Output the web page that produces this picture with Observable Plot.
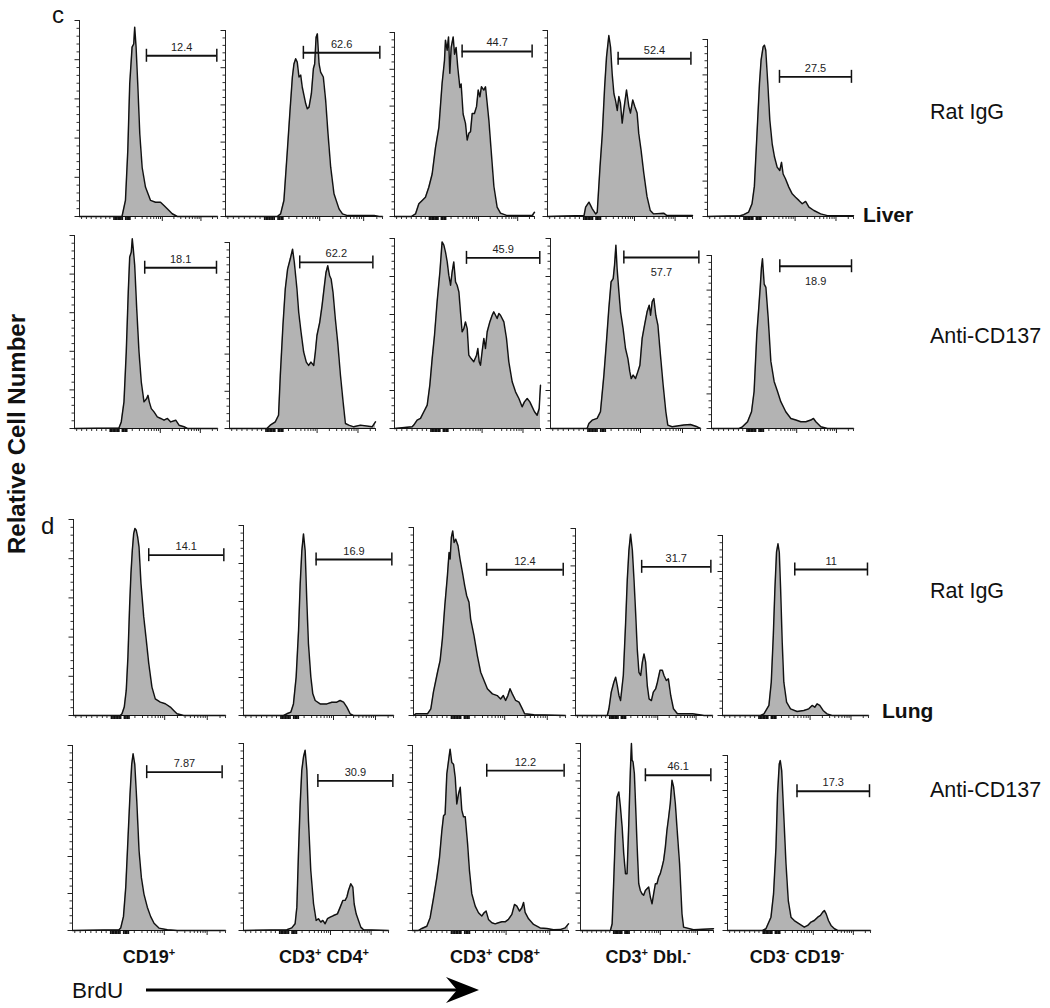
<!DOCTYPE html>
<html><head><meta charset="utf-8">
<script src="https://cdn.jsdelivr.net/npm/d3@7"></script>
<script src="https://cdn.jsdelivr.net/npm/@observablehq/plot@0.6"></script>
<style>
html,body{margin:0;padding:0;background:#fff;}
#fig{position:relative;width:1050px;height:1008px;overflow:hidden;background:#fff;font-family:"Liberation Sans",Arial,sans-serif;}
#fig svg{position:absolute;}
</style></head><body><div id="fig"></div>
<script>
// ---------- categories / labels ----------
const columns = [[["CD19","+"]],[["CD3","+"],[" CD4","+"]],[["CD3","+"],[" CD8","+"]],[["CD3","+"],[" Dbl.","-"]],[["CD3","-"],[" CD19","-"]]];
const conditions = ["Rat IgG","Anti-CD137","Rat IgG","Anti-CD137"];
const tissues = ["Liver","Lung"];
const panelLetters = ["c","d"];
const yTitle = "Relative Cell Number";
const xTitle = "BrdU";

// ---------- histogram series: [BrdU channel (0-100), relative cell number (% of max)] ----------
const liverIgG_CD19 = [[0,0],[30.8,0],[33.3,8.2],[35,33.7],[36.4,67.7],[38.1,86.4],[39.3,88],[40,96.6],[41,86.4],[42.2,67.7],[43.7,42],[45.4,25],[47.8,15],[51.5,8.2],[55.1,7.3],[58.7,7.3],[61.2,5.6],[63.6,3.9],[67.2,1.4],[70.9,0],[100,0]];
const liverIgG_CD4 = [[0,0],[33,0],[35.1,1.4],[37.2,8.6],[39.4,35.5],[41.1,57],[42.6,75],[43.6,82],[44.7,84.8],[45.7,83],[46.8,75],[47.9,76],[48.9,69.5],[51.1,60.6],[52.1,57.9],[53.2,58.8],[54.7,66],[56,79.6],[56.8,82],[57.7,96.4],[58.5,98.2],[59.6,82],[60.6,77.6],[62.3,75],[63.8,62.4],[65.3,44.4],[67,26.5],[69.1,12.2],[72.3,4.1],[74.5,1.4],[77.7,0.5],[94.7,0.5],[97.9,0],[100,0]];
const liverIgG_CD8 = [[0,0],[12,0],[15,1.4],[17.4,6.9],[19.8,8.7],[22.1,10.5],[24.5,15.9],[26.9,23.1],[29.3,37.6],[31.7,48.5],[34,72.3],[35.7,84.8],[36.4,95.8],[37.6,90.4],[38.6,97.6],[39.5,77.8],[40.5,91.9],[41.9,97.6],[42.9,88.2],[44,91.9],[45.2,81],[46.7,70.1],[47.6,72],[49,55.7],[50.7,50.6],[51.9,41.6],[53.1,45.2],[54.3,46.1],[55.5,56],[57.1,56],[58.6,59.7],[59.8,68.7],[61,65.1],[62.1,70.5],[63.8,68.7],[65,70.5],[66.2,61.5],[67.4,52.4],[69,36.2],[71,16.3],[73.3,5.1],[75.7,1.8],[80.5,0.5],[98.3,0.5],[100,2.3]];
const liverIgG_DN = [[0,0],[25.2,0.5],[26.3,5],[28.6,7.7],[30.9,4.1],[33.2,1.4],[34.3,2.3],[36.2,26.5],[37.8,44.4],[39.4,69.5],[40.7,85.7],[42.3,97.3],[43.5,91],[44.6,76.7],[45.8,66],[46.9,62.4],[48.1,57],[49.2,64.5],[50.3,60.9],[51.5,50.2],[52.6,57.3],[54.5,68],[56.1,59.1],[57.2,55.6],[58.8,62.7],[60.2,59.1],[61.8,55.6],[62.9,44.8],[64.5,35.8],[66.4,23.3],[68.6,10.8],[70.9,3.2],[73.2,1.4],[80.1,1.8],[82.4,0.5],[100,0.5]];
const liverIgG_NonTB = [[0,0],[22.5,0.5],[24.8,1],[28.2,2.5],[30.5,7.2],[32.1,17],[33.9,46.8],[35.6,75.1],[36.7,88.3],[38.1,95.8],[39,96.8],[39.9,93.9],[41.3,75.1],[42.7,54.3],[44.3,41.1],[45.9,33.6],[47.7,27.9],[49.5,26],[50.7,30.6],[51.8,24],[53.4,21.3],[55.7,16.6],[58,12.8],[60.3,10.9],[62.6,9.1],[64.9,7.2],[67.2,8.5],[69.5,5.3],[72.9,3.4],[77.5,1.5],[82.1,0.5],[100,0.5]];

const liverAnti_CD19 = [[0,0],[31.1,0.3],[32.7,3.4],[34.6,13.8],[36.2,39.7],[37.6,70.7],[38.6,88.8],[39.7,91.4],[40.4,98.3],[41.1,93.1],[42.1,84.5],[43.5,62.1],[45.1,39.7],[46.7,24.1],[48.6,13.8],[50.5,15.5],[51.4,17.2],[52.3,13.8],[53.7,10.3],[55.6,8.6],[57.9,6],[60.3,5.2],[62.6,4.3],[65,5.2],[67.3,3.4],[70.8,4.3],[73.1,1.7],[76.6,0.9],[79,0],[100,0]];
const liverAnti_CD4 = [[0,0],[25.6,0],[27.9,1.8],[31.4,3.6],[33.6,7.1],[34.8,28.6],[36.6,55.4],[38.2,75],[39.8,85.7],[41.6,91.1],[43.2,96.4],[44.4,89.3],[45.3,82.1],[46.2,75],[47.4,62.5],[49,51.8],[50.8,41.1],[52.6,35.7],[54.2,33.9],[55.8,35.7],[57.7,33.9],[58.8,41.1],[59.9,50],[61.8,57.1],[63.4,66.1],[65,76.8],[66.1,83.9],[67.3,87.5],[68.6,82.1],[69.6,80.4],[70.9,73.2],[72.5,58.9],[74.1,46.4],[76,28.6],[77.8,14.3],[79.4,2.7],[81.7,1.8],[85.1,0.9],[89.7,1.8],[97.7,0.9],[100,3.6]];
const liverAnti_CD8 = [[0,0],[12.1,0.9],[13.2,1.8],[15.5,4.4],[17.8,5.3],[20.1,8.8],[22.4,12.3],[24.2,22.8],[25.8,36.8],[27.4,49.1],[29.2,66.7],[31.1,82.5],[32.6,98.2],[33.8,96.5],[34.9,93],[36.1,87.7],[37.2,80.7],[38.4,75.4],[39.5,82.5],[40.6,87.7],[41.8,77.2],[42.9,75.4],[44.1,71.9],[45.2,61.4],[46.3,50.9],[47.5,52.6],[48.6,56.1],[49.8,52.6],[50.9,38.6],[52.5,36.8],[54.3,35.1],[56.2,38.6],[57.1,42.1],[58,35.1],[58.9,33.3],[60,40.4],[61.2,47.4],[62.3,42.1],[63.5,50.9],[65.3,56.1],[66.9,59.6],[68,61.4],[69.2,59.6],[70.3,57.9],[71.5,60.5],[72.6,59.6],[74.9,56.1],[76.7,47.4],[78.3,35.1],[80.6,24.6],[82.9,19.3],[85.2,15.8],[87.4,11.4],[89,14],[90.9,15.8],[92.7,14],[94.3,11.4],[95.9,8.8],[97.7,7],[99.1,10.5],[100,22.8]];
const liverAnti_DN = [[0,0],[24.4,0],[25.6,2.6],[27.8,4.4],[31.1,5.3],[33.3,8.8],[35.6,28.1],[37.3,45.6],[38.9,63.2],[40.4,77.2],[41.8,78.9],[42.7,86],[43.6,96.5],[44.4,84.2],[45.6,71.9],[46.7,61.4],[48.4,52.6],[50,42.1],[51.6,36.8],[52.9,29.8],[53.8,26.3],[55.1,28.1],[56.7,26.3],[58.2,29.8],[59.6,33.3],[61.1,47.4],[62.7,54.4],[64.4,61.4],[65.8,64.9],[66.7,59.6],[67.8,66.7],[68.9,68.4],[70.2,59.6],[71.6,54.4],[73.3,38.6],[75.1,22.8],[76.9,8.8],[78.2,1.8],[81.1,0.9],[88.9,1.8],[93.3,2.1],[97.8,0.9],[100,0]];
const liverAnti_NonTB = [[0,0],[19.5,0],[21.8,1],[25.4,3.9],[28.2,9.7],[30,21.4],[31.9,54.4],[33.3,69.9],[34.3,81.6],[35.2,93.2],[35.9,98.1],[37.1,83.5],[38.3,81.6],[39.9,64.1],[41.8,38.8],[44.1,27.2],[46.5,21.4],[48.8,15.5],[52.3,9.7],[55.9,5.8],[59.4,4.9],[62.9,3.9],[66.4,3.9],[70,4.9],[71.8,5.8],[73.5,3.9],[77,1],[81.7,0],[100,0]];

const lungIgG_CD19 = [[0,0],[30.8,0],[31.9,0.9],[33.4,4.3],[34.7,12.8],[35.8,29.8],[36.9,55.4],[37.8,72.4],[38.7,84.3],[39.6,92.8],[40.4,95.4],[41.3,94.5],[42.2,91.1],[43.1,86],[44.4,67.3],[46.2,50.3],[47.9,38.3],[49.5,26.6],[51.6,14.5],[53.8,8.5],[57.1,6.8],[60.4,6],[63.7,4.3],[65.9,2.6],[68.1,0.9],[72.5,0],[100,0]];
const lungIgG_CD4 = [[0,0],[26.7,0],[28.9,0.9],[31.6,1.8],[33.3,6.1],[35.1,20.2],[36.7,44.7],[37.8,69.3],[38.9,86.8],[40,95.6],[41.1,86.8],[42.2,60.5],[43.3,37.7],[44.9,20.2],[46.2,11.4],[47.8,7.9],[51.1,6.1],[55.6,6.1],[58.9,7],[62.2,7],[64.4,7.9],[66.7,7],[68.9,4.4],[71.1,0.9],[73.3,0],[100,0]];
const lungIgG_CD8 = [[0,0],[1.5,0.9],[9.2,0.9],[11.4,3.5],[13.1,12.4],[15.8,23],[17.5,29.2],[19,40.7],[20.6,58.4],[22.3,74.3],[23.4,86.7],[24.1,83.2],[24.9,94.7],[25.8,98.2],[26.7,92],[27.8,93.8],[29.3,90.3],[30.6,83.2],[32.2,76.1],[33.7,69],[35,63.7],[36.5,60.2],[37.6,51.3],[39.8,42.5],[42,31.9],[44.2,23],[46.4,18.6],[48.6,14.2],[51.9,11.5],[55.1,10.6],[57.3,8.8],[59.1,10.6],[60.6,8],[62.1,10.6],[63.5,14.2],[65,11.5],[67.2,8],[69.4,7.1],[71.6,3.5],[73.1,0.9],[79.2,0.4],[100,0]];
const lungIgG_DN = [[0,0],[23.2,0],[24.4,3.6],[26.1,12.5],[28,17.8],[29.3,20.5],[30.5,16],[31.7,10.7],[32.9,8],[34.9,21.4],[36.6,49.8],[37.8,72.6],[39,88.3],[40.2,97],[41.5,88.3],[42.7,72.6],[43.9,54.8],[45.1,35.2],[46.3,23.1],[47.6,21.4],[48.8,28.5],[50,32.9],[51.2,28.5],[52.4,16],[53.7,8.9],[55.4,8],[56.8,12.5],[58.5,14.2],[59.8,17.8],[61.7,24.2],[63.4,24.2],[64.6,21.4],[66.3,18.7],[67.8,19.6],[69.5,10.7],[71.5,3.6],[74.4,0.9],[85.4,0.9],[93.9,0],[100,0]];
const lungIgG_NonTB = [[0,0],[26.1,0],[28.4,0.9],[31.8,5.6],[33.4,18.5],[34.8,44.4],[35.9,70.4],[37,90.7],[38,95.4],[38.9,90.7],[39.8,70.4],[40.9,40.7],[42,18.5],[43.9,7.4],[46.6,3.7],[51.1,2.2],[55.7,2.8],[59.1,3.7],[61.4,5.6],[63.2,4.6],[64.8,6.5],[66.6,5.6],[68.9,2.8],[71.6,0.9],[75,0],[100,0]];

const lungAnti_CD19 = [[0,0],[30.4,0.4],[31.5,1.3],[33.3,7.5],[34.8,23.3],[36.3,50.3],[37.6,73.6],[38.7,89.8],[39.6,95.5],[40.7,89.8],[42,70.1],[43.5,43.1],[45,28.7],[46.7,19.7],[48.9,12.6],[51.1,7.5],[53.3,3.9],[56.5,1.3],[62,0.4],[68.5,0],[100,0]];
const lungAnti_CD4 = [[0,0],[29.9,0.4],[33.3,1.4],[35.6,3.6],[36.8,12.5],[37.9,41.1],[39.1,67.9],[40.2,85.7],[41.4,92.9],[42.5,96.4],[43.7,85.7],[44.8,58.9],[46.4,32.1],[48.3,14.3],[50.1,5.4],[51.7,6.3],[53.3,4.5],[54.7,5.4],[56.3,3.6],[57.9,6.3],[59.8,7.1],[62.1,8],[64.8,8.9],[66.7,12.5],[68.5,16.1],[70.1,16.1],[71.3,17.9],[72.4,21.4],[74,25],[75.4,23.2],[76.3,14.3],[77.7,8.9],[79.3,5.4],[80.9,1.8],[82.8,0.4],[100,0]];
const lungAnti_CD8 = [[0,0],[3.8,0],[6,1.1],[9.2,2.3],[11.3,6.9],[13.5,17.7],[15.6,28.6],[17.3,39.4],[18.8,53.8],[19.9,62],[20.9,62.9],[22,84.6],[23.1,91.7],[24.1,98],[25.2,90.8],[26.3,89.9],[27.4,82.6],[28.4,68.4],[29.5,73.8],[30.6,77.4],[31.6,65.1],[32.7,61.5],[33.8,61.5],[35.3,47],[36.5,32.5],[38,19.9],[40.2,13.2],[42.3,9.6],[44.4,7.8],[45.9,9.6],[47.2,10.5],[48.7,6],[50.9,4.2],[53,3.6],[55.1,4.2],[57.3,4.7],[59.4,4.7],[61.5,6],[63.7,8.7],[65.4,14.1],[66.9,13.2],[68.6,10.5],[70.1,12.3],[71.2,15.2],[72.2,9.8],[74.4,6.3],[77.6,3.3],[81.8,1.4],[86.1,1.1],[90.4,0.4],[94.7,0.5],[97.9,1.4],[100,3.6]];
const lungAnti_DN = [[0,0],[22.5,0],[23.8,3.6],[25,26.8],[26.3,53.6],[27.5,71.4],[28.8,74.1],[30,66.1],[31.3,55.4],[32.5,41.1],[33.8,30.4],[35,30.4],[36.3,57.1],[37.5,85.7],[38.3,100],[38.8,91.1],[39.5,90.2],[40.5,83.9],[41.5,65.7],[42.5,46.4],[43.8,25],[45,21.4],[46.3,19.6],[47.5,18.8],[48.8,21.4],[50,22.3],[51.3,23.2],[52.5,17.9],[53.8,14.3],[55,19.6],[56.3,25],[57.5,25],[58.8,28.6],[60,30.4],[61.3,33.9],[62.5,37.5],[63.8,44.6],[65,53.6],[66.3,60.7],[67.5,67.9],[68.8,80.4],[70,76.8],[71.3,67.9],[72.5,55.4],[74.5,35.7],[76.3,8.9],[77.5,1.8],[85,0.4],[100,0.9]];
const lungAnti_NonTB = [[0,0],[24.5,0],[26.9,1],[30.4,7.6],[32.2,20.9],[33.9,47.6],[35,78.1],[36.2,95.2],[36.9,97.1],[37.9,91.4],[39.3,66.7],[40.9,38.1],[42.5,17.1],[44.4,7.6],[46.7,5.7],[50.2,3.8],[53.7,1.9],[56.1,2.9],[58.4,4.8],[60.7,5.7],[63.1,7.6],[65,8.6],[66.6,10.5],[67.8,11.4],[69,9.5],[70.6,5.7],[72.4,2.9],[74.8,1],[77.1,0],[100,0]];

const histograms = [
  [liverIgG_CD19, liverIgG_CD4, liverIgG_CD8, liverIgG_DN, liverIgG_NonTB],
  [liverAnti_CD19, liverAnti_CD4, liverAnti_CD8, liverAnti_DN, liverAnti_NonTB],
  [lungIgG_CD19, lungIgG_CD4, lungIgG_CD8, lungIgG_DN, lungIgG_NonTB],
  [lungAnti_CD19, lungAnti_CD4, lungAnti_CD8, lungAnti_DN, lungAnti_NonTB]
];

// ---------- BrdU+ gates ----------
const gateStart = [[48.5,49.6,48.3,48.7,49.3],[49.1,48.1,49.3,48.9,48.1],[49.5,48.4,48.1,48.3,49.5],[48.5,51.3,47.6,48.8,48.6]];
const gateEnd   = [[99.5,98.3,98.3,98.9,98.6],[99.3,98.2,99.5,98.9,98.6],[98.9,98.9,98.5,98.8,99.3],[97.8,103,97.2,98,99.3]];
const gateLevel = [[82,88,89.7,84.8,78.9],[83.3,89.3,89.8,90,93.8],[81.8,82.1,77.5,79.5,81.1],[85.6,80,86.4,83,79.6]];
const gatePercent = [["12.4","62.6","44.7","52.4","27.5"],["18.1","62.2","45.9","57.7","18.9"],["14.1","16.9","12.4","31.7","11"],["7.87","30.9","12.2","46.1","17.3"]];
const gateLabelBelow = [[0,0,0,0,0],[0,0,0,1,1],[0,0,0,0,0],[0,0,0,0,0]];

// ---------- axis ticks (channel units) ----------
const xMinorTicks = [1.5,5,8.5,12,15.5,19,22,40.4,45.4,48.9,51.6,53.8,55.7,57.3,58.7,68.4,73.4,76.9,79.6,81.8,83.7,85.3,86.7,96.4,100];
const xMajorTicks = [60,88];
const xZeroTicks = [25,26,27,28,29,30,31,33.5,34.5,35.5,36.5];
const yMajorTicks = [0,20,40,60,80,100];
const yMinorTicks = [4,8,12,16,24,28,32,36,44,48,52,56,64,68,72,76,84,88,92,96];

// ---------- layout (pixels) ----------
const panelLeft  = [[79,225,394,547,707],[74,229,394,550,711],[73,243,413,575,722],[72,243,412,580,727]];
const panelRight = [[217,382,534,692,853],[217,375,540,700,853],[225,393,565,712,868],[225,388,568,713,870]];
const panelTop   = [[20,30,32,30,39],[235,242,238,238,255],[519,525,527,528,535],[745,743,745,743,755]];
const rowBase    = [216,428,715,930];
const FONT = "Liberation Sans, Arial, sans-serif";

const fig = document.getElementById("fig");

function panel(r, c) {
  const L = panelLeft[r][c], R = panelRight[r][c], T = panelTop[r][c], B = rowBase[r];
  const ml = 10, mr = 12, mt = 20, mb = 8;
  const h = B - T;
  const pts = histograms[r][c].map(([x, y]) => ({x, y}));
  const gate = {x1: gateStart[r][c], x2: gateEnd[r][c], y: gateLevel[r][c], label: gatePercent[r][c]};
  const below = gateLabelBelow[r][c] === 1;
  const cap = 6.5 / h * 100;
  const svg = Plot.plot({
    width: R - L + ml + mr,
    height: h + mt + mb,
    marginLeft: ml, marginRight: mr, marginTop: mt, marginBottom: mb,
    x: {domain: [0, 100]},
    y: {domain: [0, 100]},
    style: {background: "transparent", overflow: "visible", fontFamily: FONT},
    marks: [
      Plot.areaY(pts, {x: "x", y: "y", fill: "#b3b3b3"}),
      Plot.lineY(pts, {x: "x", y: "y", stroke: "#111", strokeWidth: 1.45}),
      Plot.axisY({ticks: yMinorTicks, tickSize: 2.5, fill: "none", stroke: "#333"}),
      Plot.axisY({ticks: yMajorTicks, tickSize: 4.5, fill: "none", stroke: "#222"}),
      Plot.axisX({ticks: xMinorTicks, tickSize: 3, fill: "none", stroke: "#333"}),
      Plot.axisX({ticks: xMajorTicks, tickSize: 5, fill: "none", stroke: "#222"}),
      Plot.axisX({ticks: xZeroTicks, tickSize: 4, fill: "none", stroke: "#111", strokeWidth: 1.7}),
      Plot.ruleY([0], {stroke: "#111", strokeWidth: 1.2}),
      Plot.ruleX([0], {stroke: "#222", strokeWidth: 1}),
      Plot.ruleY([gate], {x1: "x1", x2: "x2", y: "y", stroke: "#111", strokeWidth: 1.9}),
      Plot.ruleX([gate.x1, gate.x2], {x: d => d, y1: gate.y - cap, y2: gate.y + cap, stroke: "#111", strokeWidth: 1.5}),
      Plot.text([gate], {x: d => (d.x1 + d.x2) / 2, y: "y", text: "label", fontSize: 11, fontFamily: FONT,
        fill: "#222", lineAnchor: below ? "top" : "bottom", dy: below ? 11 : -5})
    ]
  });
  svg.style.left = (L - ml) + "px";
  svg.style.top = (T - mt) + "px";
  fig.appendChild(svg);
}

for (let r = 0; r < 4; r++) for (let c = 0; c < 5; c++) panel(r, c);

// ---------- annotation layer ----------
const condX = 930, condBase = [119, 343, 598, 797];
const tissueX = [863, 882], tissueBase = [222, 718];
const colCenter = [149, 324, 495, 648, 797], colBase = 963;

const ann = d3.create("svg").attr("width", 1050).attr("height", 1008)
  .style("left", "0px").style("top", "0px").style("pointer-events", "none")
  .attr("font-family", FONT);

ann.append("text").attr("x", 52).attr("y", 23).attr("font-size", 24).attr("fill", "#111").text(panelLetters[0]);
ann.append("text").attr("x", 41).attr("y", 534).attr("font-size", 24).attr("fill", "#111").text(panelLetters[1]);

ann.append("text").attr("transform", "translate(25,434) rotate(-90)").attr("text-anchor", "middle")
  .attr("font-size", 24).attr("font-weight", "bold").attr("fill", "#111").text(yTitle);

conditions.forEach((t, i) => ann.append("text").attr("x", condX).attr("y", condBase[i])
  .attr("font-size", 21.5).attr("fill", "#111").text(t));
tissues.forEach((t, i) => ann.append("text").attr("x", tissueX[i]).attr("y", tissueBase[i])
  .attr("font-size", 21).attr("font-weight", "bold").attr("fill", "#111").text(t));

columns.forEach((parts, i) => {
  const t = ann.append("text").attr("x", colCenter[i]).attr("y", colBase).attr("text-anchor", "middle")
    .attr("font-size", 18).attr("font-weight", "bold").attr("fill", "#111");
  parts.forEach(([b, s], j) => {
    t.append("tspan").attr("dy", j ? 7 : 0).text(b);
    t.append("tspan").attr("dy", -7).attr("font-size", 11).text(s);
  });
});

ann.append("text").attr("x", 72).attr("y", 998).attr("font-size", 22.5).attr("fill", "#111").text(xTitle);
ann.append("line").attr("x1", 146).attr("x2", 462).attr("y1", 990).attr("y2", 990)
  .attr("stroke", "#000").attr("stroke-width", 3);
ann.append("path").attr("d", "M479,990 L446,977 L457,990 L446,1003 Z").attr("fill", "#000");

fig.appendChild(ann.node());
</script></body></html>
